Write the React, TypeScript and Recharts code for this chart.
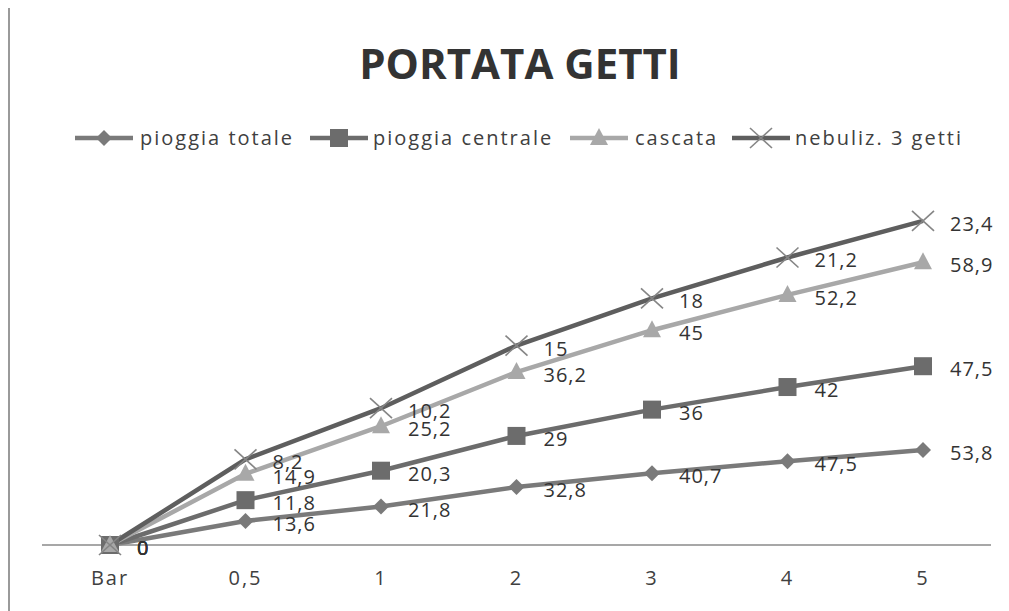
import React from 'react';
import { AreaChart, Area, XAxis, YAxis, LabelList } from 'recharts';

const categories = ['Bar', '0,5', '1', '2', '3', '4', '5'];
const pioggiaTotale = [0, 13.6, 21.8, 32.8, 40.7, 47.5, 53.8];
const pioggiaCentrale = [0, 11.8, 20.3, 29, 36, 42, 47.5];
const cascata = [0, 14.9, 25.2, 36.2, 45, 52.2, 58.9];
const nebuliz = [0, 8.2, 10.2, 15, 18, 21.2, 23.4];

const FONT = '"Open Sans", "Liberation Sans", sans-serif';

const series = [
    { key: 'totale', name: 'pioggia totale', values: pioggiaTotale, color: '#7a7a7a', marker: 'diamond' },
    { key: 'centrale', name: 'pioggia centrale', values: pioggiaCentrale, color: '#6c6c6c', marker: 'square' },
    { key: 'cascata', name: 'cascata', values: cascata, color: '#a8a8a8', marker: 'triangle' },
    { key: 'nebuliz', name: 'nebuliz. 3 getti', values: nebuliz, color: '#5e5e5e', marker: 'cross' },
];

const chartData = categories.map((cat, i) => ({
    cat,
    totale: pioggiaTotale[i],
    centrale: pioggiaCentrale[i],
    cascata: cascata[i],
    nebuliz: nebuliz[i],
}));

const fmt = (v: number) => String(v).replace('.', ',');

const Marker = ({ type, cx, cy, color }: { type: string; cx: number; cy: number; color: string }) => {
    if (type === 'diamond') {
        return <polygon points={`${cx},${cy - 8} ${cx + 8},${cy} ${cx},${cy + 8} ${cx - 8},${cy}`} fill={color} />;
    }
    if (type === 'square') {
        return <rect x={cx - 9} y={cy - 9} width={18} height={18} fill={color} />;
    }
    if (type === 'triangle') {
        return <polygon points={`${cx},${cy - 10} ${cx + 9},${cy + 7} ${cx - 9},${cy + 7}`} fill={color} />;
    }
    return (
        <g stroke="#858585" strokeWidth={1.6}>
            <line x1={cx - 11} y1={cy - 10} x2={cx + 11} y2={cy + 10} />
            <line x1={cx - 11} y1={cy + 10} x2={cx + 11} y2={cy - 10} />
        </g>
    );
};

const LegendRow = () => {
    const items = [
        { s: series[0], lx: 75, tx: 140 },
        { s: series[1], lx: 310, tx: 373 },
        { s: series[2], lx: 570, tx: 635 },
        { s: series[3], lx: 732, tx: 795 },
    ];
    return (
        <svg width={1009} height={40} style={{ position: 'absolute', left: 0, top: 118 }}>
            {items.map(({ s, lx, tx }) => (
                <g key={s.key}>
                    <line x1={lx} y1={20} x2={lx + 58} y2={20} stroke={s.color} strokeWidth={4.5} />
                    <Marker type={s.marker} cx={lx + 29} cy={20} color={s.color} />
                    <text x={tx} y={20} dy="0.35em" fontFamily={FONT} fontSize={20} letterSpacing={2} fill="#404040">{s.name}</text>
                </g>
            ))}
        </svg>
    );
};

export default function App() {
    return (
        <div style={{ position: 'absolute', left: 0, top: 0, width: 1009, height: 611, background: '#fff', overflow: 'hidden' }}>
            <div style={{ position: 'absolute', left: 8, top: 8, width: 2, height: 603, background: '#9a9a9a' }} />
            <div style={{ position: 'absolute', left: 0, top: 34, width: 1040, textAlign: 'center', fontFamily: FONT, fontWeight: 700, fontSize: 42, color: '#333' }}>
                PORTATA GETTI
            </div>
            <LegendRow />
            <div style={{ position: 'absolute', left: 0, top: 0 }}>
                <AreaChart width={1009} height={611} data={chartData} margin={{ top: 192, right: 18, bottom: 36, left: 42 }}>
                    <XAxis
                        dataKey="cat"
                        height={30}
                        padding={{ left: 68, right: 68 }}
                        tickSize={0}
                        tickMargin={26}
                        tickLine={false}
                        axisLine={{ stroke: '#8a8a8a', strokeWidth: 1.5 }}
                        tick={{ fill: '#404040', fontSize: 20, fontFamily: FONT, letterSpacing: 2 }}
                    />
                    <YAxis hide domain={[0, 200]} />
                    {series.map(s => (
                        <Area
                            key={s.key}
                            type="linear"
                            dataKey={s.key}
                            stackId="1"
                            stroke={s.color}
                            strokeWidth={4.5}
                            fill="none"
                            isAnimationActive={false}
                            activeDot={false}
                            dot={(p: any) => <Marker key={`${s.key}-${p.index}`} type={s.marker} cx={p.cx} cy={p.cy} color={s.color} />}
                        >
                            <LabelList
                                dataKey={s.key}
                                content={(p: any) => (
                                    <text x={p.x + 27} y={p.y + 3} dy="0.35em" fontFamily={FONT} fontSize={20} letterSpacing={1} fill="#333">
                                        {fmt(s.values[p.index])}
                                    </text>
                                )}
                            />
                        </Area>
                    ))}
                </AreaChart>
            </div>
        </div>
    );
}
